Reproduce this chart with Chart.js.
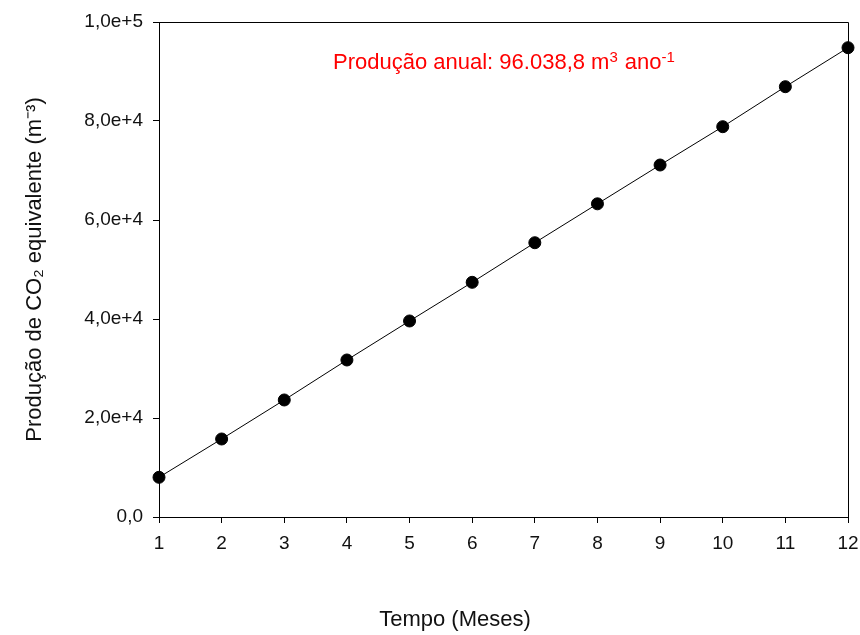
<!DOCTYPE html>
<html>
<head>
<meta charset="utf-8">
<script src="https://cdn.jsdelivr.net/npm/chart.js@4/dist/chart.umd.min.js"></script>
<style>
  body { margin: 0; background: #fff; }
  #wrap { width: 860px; height: 635px; }
</style>
</head>
<body>
<div id="wrap"><canvas id="myChart" width="860" height="635"></canvas></div>
<script>
const months = [1, 2, 3, 4, 5, 6, 7, 8, 9, 10, 11, 12];
const production = [8020, 15760, 23640, 31720, 39600, 47410, 55410, 63270, 71110, 78850, 86930, 94810];
const yTicks = [0, 20000, 40000, 60000, 80000, 100000];
const xTitle = 'Tempo (Meses)';

const fontFamily = '"Liberation Sans", Arial, sans-serif';

function sciLabel(v) {
    if (v === 0) return '0,0';
    const e = Math.floor(Math.log10(v) + 1e-9);
    const m = v / Math.pow(10, e);
    return m.toFixed(1).replace('.', ',') + 'e+' + e;
}

// box around the plot, x title (off-centre like the original) and red note
const boxAndNote = {
    id: 'boxAndNote',
    afterDraw(chart) {
        const c = chart.ctx;
        const a = chart.chartArea;
        c.save();
        c.strokeStyle = '#000';
        c.lineWidth = 1;
        c.beginPath();
        c.moveTo(Math.round(a.left) + 0.5, Math.round(a.top) + 0.5);
        c.lineTo(Math.round(a.right) + 0.5, Math.round(a.top) + 0.5);
        c.lineTo(Math.round(a.right) + 0.5, Math.round(a.bottom) + 0.5);
        c.stroke();

        c.fillStyle = '#111';
        c.font = '22px ' + fontFamily;
        c.textAlign = 'center';
        c.textBaseline = 'middle';
        c.fillText(xTitle, 455, 620);

        const runs = [
            { t: 'Produção anual: 96.038,8 m', sup: false },
            { t: '3', sup: true },
            { t: ' ano', sup: false },
            { t: '-1', sup: true }
        ];
        let x = 333;
        const y = 69;
        c.fillStyle = '#ff0000';
        c.textBaseline = 'alphabetic';
        c.textAlign = 'left';
        runs.forEach(r => {
            c.font = (r.sup ? '15px ' : '22px ') + fontFamily;
            c.fillText(r.t, x, r.sup ? y - 7 : y);
            x += c.measureText(r.t).width + (r.sup ? 1 : 0);
        });
        c.restore();
    }
};

const ctx = document.getElementById('myChart').getContext('2d');
const myChart = new Chart(ctx, {
    type: 'line',
    data: {
        datasets: [{
            data: months.map((m, i) => ({ x: m, y: production[i] })),
            borderColor: '#000',
            borderWidth: 1,
            backgroundColor: '#000',
            pointRadius: 6,
            pointBorderWidth: 1,
            pointBorderColor: '#000',
            pointBackgroundColor: '#000',
            tension: 0,
            clip: false
        }]
    },
    options: {
        responsive: false,
        animation: false,
        layout: { padding: { top: 22, right: 12, left: 0, bottom: 0 } },
        plugins: {
            legend: { display: false },
            tooltip: { enabled: false }
        },
        scales: {
            x: {
                type: 'linear',
                min: 1,
                max: 12,
                afterFit(scale) {
                    scale.height = 118;
                    scale.paddingRight = 0;
                    scale.paddingLeft = 0;
                },
                afterBuildTicks(scale) { scale.ticks = months.map(v => ({ value: v })); },
                ticks: {
                    color: '#111',
                    font: { family: fontFamily, size: 19 },
                    padding: 9,
                    maxRotation: 0
                },
                grid: {
                    drawOnChartArea: false,
                    drawTicks: true,
                    tickLength: 6,
                    color: '#000'
                },
                border: { display: true, color: '#000', width: 1 }
            },
            y: {
                min: 0,
                max: 100000,
                afterFit(scale) { scale.width = 159; },
                afterBuildTicks(scale) { scale.ticks = yTicks.map(v => ({ value: v })); },
                ticks: {
                    color: '#111',
                    font: { family: fontFamily, size: 19 },
                    padding: 10,
                    callback: v => sciLabel(v)
                },
                grid: {
                    drawOnChartArea: false,
                    drawTicks: true,
                    tickLength: 6,
                    color: '#000'
                },
                border: { display: true, color: '#000', width: 1 },
                title: {
                    display: true,
                    text: 'Produção de CO₂ equivalente (m⁻³)',
                    color: '#111',
                    font: { family: fontFamily, size: 22 },
                    padding: { top: 22, bottom: 0 }
                }
            }
        }
    },
    plugins: [boxAndNote]
});
</script>
</body>
</html>
